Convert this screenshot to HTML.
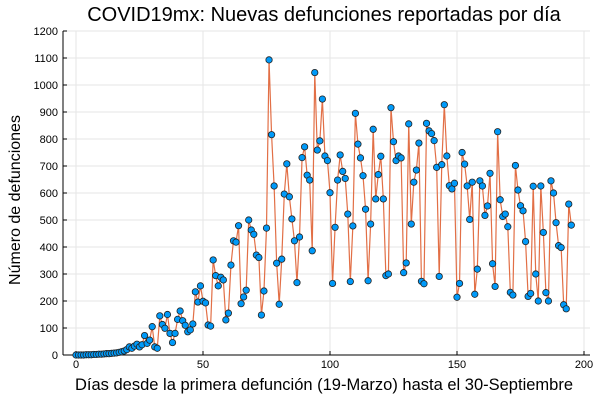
<!DOCTYPE html>
<html><head><meta charset="utf-8"><style>
body{margin:0;background:#fff}
svg{display:block;font-family:"Liberation Sans",sans-serif}
</style></head><body>
<svg id="chart" width="600" height="400" viewBox="0 0 600 400">
<text x="324" y="21" text-anchor="middle" font-size="20" fill="#000">COVID19mx: Nuevas defunciones reportadas por día</text>
<text x="324" y="390" text-anchor="middle" font-size="16.5" fill="#000">Días desde la primera defunción (19-Marzo) hasta el 30-Septiembre</text>
<text transform="translate(20,200) rotate(-90)" text-anchor="middle" font-size="16" fill="#000">Número de defunciones</text>
<g id="grid"></g>
<g id="axes"></g>
<g id="series"></g>
</svg>
<script>
const yTicks=[0,100,200,300,400,500,600,700,800,900,1000,1100,1200];
const xTicks=[0,50,100,150,200];
const earlyDeaths=[0,0,0,0,1,1,1,2,2,3,3,4,5,5,6,7,8,10,12,15,20,30,25,33,40,30,38,72,43,55,105,30,25,145,113,99,150,80,46,80,132,163,127,110,86];
const midDeaths=[93,115,234,196,256,199,193,111,107,352,294,256,288,278,130,155,333,423,418,479,190,215,240,500,463,447,370,361,148,237,470,1093,816,626,340,188,355,596,708,586,504,423,268,437,731,771,666,648,386,1046,759,793,948,737,720,601];
const lateDeaths=[265,473,648,741,680,654,522,272,478,895,781,730,664,540,275,485,836,578,668,736,578,294,300,916,790,720,737,730,305,341,856,485,640,685,785,273,264,858,830,820,794,695,291,705,927,737,627,615,636,214];
const finalDeaths=[265,750,707,626,502,640,225,318,645,626,517,552,673,338,254,827,575,513,522,475,232,222,702,611,553,534,420,217,228,625,300,200,626,454,231,200,645,600,490,405,398,186,171,559,481];
const deaths=earlyDeaths.concat(midDeaths,lateDeaths,finalDeaths);
const days=deaths.map((d,i)=>i);

const NS="http://www.w3.org/2000/svg";
const L=63,R=590,T=31,B=355;
const xs=d=>76+d*2.54;
const ys=v=>B-v*(B-T)/1200;
function mk(tag,attrs,parent){const e=document.createElementNS(NS,tag);for(const k in attrs)e.setAttribute(k,attrs[k]);parent.appendChild(e);return e;}
const grid=document.getElementById('grid'),axes=document.getElementById('axes'),series=document.getElementById('series');
yTicks.forEach(t=>{
  const g=mk('line',{x1:L,x2:R,y1:ys(t),y2:ys(t),stroke:'#e6e6e6','stroke-width':1},grid);
  
  
  const tk=mk('line',{x1:L,x2:L+4,y1:ys(t),y2:ys(t),stroke:'#000','stroke-width':1},axes);
  
  
  const lb=mk('text',{x:L-5,y:ys(t)+4,'text-anchor':'end','font-size':11,fill:'#000'},axes);
  lb.textContent=t;
  
  
});
xTicks.forEach(t=>{
  const g=mk('line',{x1:xs(t),x2:xs(t),y1:T,y2:B,stroke:'#e6e6e6','stroke-width':1},grid);
  
  
  const tk=mk('line',{x1:xs(t),x2:xs(t),y1:B,y2:B-4,stroke:'#000','stroke-width':1},axes);
  
  
  const lb=mk('text',{x:xs(t),y:B+13,'text-anchor':'middle','font-size':11,fill:'#000'},axes);
  lb.textContent=t;
  
  
});
const xa=mk('line',{x1:L,x2:R,y1:B,y2:B,stroke:'#000','stroke-width':1},axes);


const ya=mk('line',{x1:L,x2:L,y1:T,y2:B,stroke:'#000','stroke-width':1},axes);


const pl=mk('polyline',{points:deaths.map((v,i)=>xs(days[i])+','+ys(v)).join(' '),fill:'none',stroke:'#e26f46','stroke-width':1.2},series);


deaths.forEach((v,i)=>{
  const c=mk('circle',{cx:xs(days[i]),cy:ys(v),r:3.2,fill:'#009af9',stroke:'#222','stroke-width':0.8},series);
  
  
});
</script>
</body></html>
